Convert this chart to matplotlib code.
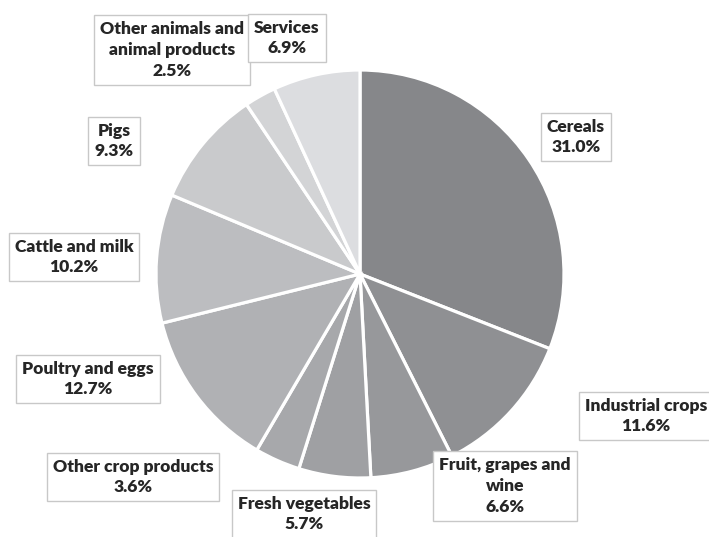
import matplotlib.pyplot as plt

# ── data ─────────────────────────────────────────────────────────────────────
labels = [
    "Cereals", "Industrial crops", "Fruit, grapes and\nwine", "Fresh vegetables",
    "Other crop products", "Poultry and eggs", "Cattle and milk", "Pigs",
    "Other animals and\nanimal products", "Services",
]
shares = [31.0, 11.6, 6.6, 5.7, 3.6, 12.7, 10.2, 9.3, 2.5, 6.9]
colors = [
    "#86878a", "#8f9093", "#97989b", "#9fa0a3", "#a7a8ab",
    "#b0b1b4", "#bcbdc0", "#c9cacc", "#d3d4d6", "#dcdde0",
]

# label box centres, in pixels from the top-left corner
label_pos = [
    (576, 137), (646, 416), (505, 486), (304, 514), (133, 477),
    (88, 379), (74, 257), (114, 141), (172, 50), (287, 38),
]

W, H = 709, 537
fig = plt.figure(figsize=(W / 100, H / 100), dpi=100)
ax = fig.add_axes([0, 0, 1, 1])

ax.pie(shares, colors=colors, startangle=90, counterclock=False,
       center=(360, H - 274), radius=204,
       wedgeprops=dict(edgecolor="white", linewidth=2.3))

# pie() resets the limits, so fix the pixel frame afterwards
ax.set_xlim(0, W)
ax.set_ylim(0, H)
ax.set_aspect("equal")
ax.axis("off")

for name, val, (x, y) in zip(labels, shares, label_pos):
    ax.text(x, H - y, f"{name}\n{val:.1f}%", ha="center", va="center",
            fontsize=12.6, fontweight="heavy", family="Lato", color="#262626",
            linespacing=1.36,
            bbox=dict(boxstyle="square,pad=0.34", fc="white", ec="#c8c8c8", lw=1))

fig.savefig("out.png", dpi=100)
